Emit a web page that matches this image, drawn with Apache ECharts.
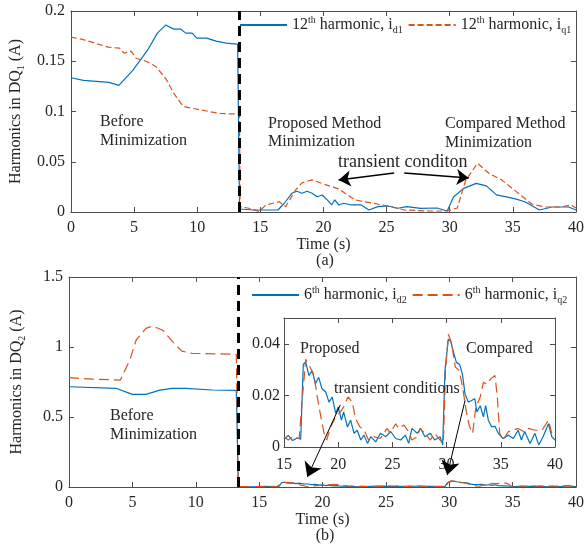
<!DOCTYPE html>
<html>
<head>
<meta charset="utf-8">
<script src="https://cdn.jsdelivr.net/npm/echarts@6/dist/echarts.min.js"></script>
<style>
  html, body { margin: 0; padding: 0; background: #fff; }
  #chart { width: 587px; height: 552px; }
</style>
</head>
<body>
<div id="chart"></div>
<script>
// (a) 12th harmonic in DQ1
const aTimeD1 = [0, 1, 2, 3, 3.8, 4.9, 6.07, 6.85, 7.5, 8.15, 8.67, 9.1, 9.6, 9.97, 10.75, 11.5, 12.3, 13.2, 13.35, 13.36, 14.5, 15.5, 16.4, 16.9, 17.5, 17.9, 18.3, 18.7, 19.1, 19.5, 19.9, 20.3, 20.65, 20.9, 21.2, 21.6, 22.2, 23.0, 23.6, 24.3, 25.1, 25.9, 26.6, 27.7, 29, 29.8, 30.3, 31.1, 32.1, 32.9, 33.7, 34.5, 35.2, 36, 37.1, 38.1, 39.4, 40];
const aValD1 = [0.1336, 0.131, 0.130, 0.129, 0.126, 0.141, 0.161, 0.178, 0.186, 0.182, 0.182, 0.178, 0.178, 0.173, 0.173, 0.170, 0.168, 0.167, 0.166, 0.003, 0.002, 0.002, 0.002, 0.0087, 0.0186, 0.0206, 0.0186, 0.0206, 0.0186, 0.0152, 0.0169, 0.012, 0.007, 0.012, 0.007, 0.0087, 0.007, 0.007, 0.002, 0.0053, 0.006, 0.0037, 0.0053, 0.0037, 0.004, 0.001, 0.015, 0.0235, 0.0285, 0.026, 0.017, 0.015, 0.013, 0.010, 0.002, 0.005, 0.005, 0.002];
const aTimeQ1 = [0, 0.85, 1.9, 2.95, 3.85, 4.2, 4.77, 5.16, 5.95, 6.7, 7.5, 8.15, 8.9, 9.7, 10.75, 11.8, 13.1, 13.35, 13.4, 14.1, 14.9, 15.45, 16, 16.5, 17, 17.4, 17.8, 18.3, 19.1, 20.2, 21.2, 22.5, 23.8, 25.1, 26.4, 28.4, 29.8, 30.6, 31.25, 32.2, 33.1, 34.1, 35.2, 36.5, 37.5, 38.8, 39.6, 40];
const aValQ1 = [0.174, 0.172, 0.168, 0.164, 0.163, 0.158, 0.160, 0.153, 0.150, 0.145, 0.133, 0.118, 0.105, 0.103, 0.1005, 0.098, 0.0975, 0.0975, 0.0053, 0.0037, 0.0005, 0.007, 0.0087, 0.0103, 0.0053, 0.0136, 0.022, 0.029, 0.032, 0.027, 0.023, 0.012, 0.009, 0.006, 0.002, 0.001, 0.001, 0.004, 0.031, 0.0485, 0.0385, 0.032, 0.021, 0.008, 0.005, 0.005, 0.007, 0.004];

// (b) 6th harmonic in DQ2, up to the switch to minimization
const bTimeD2 = [0, 3.7, 5, 6.07, 7.1, 8.1, 9.2, 11.3, 13.2, 13.35, 13.36, 14.2];
const bValD2 = [0.716, 0.705, 0.662, 0.662, 0.69, 0.705, 0.705, 0.693, 0.69, 0.688, 0.002, 0.001];
const bTimeQ2 = [0, 1.9, 4.05, 4.8, 5.3, 6.07, 6.6, 7.4, 8.15, 8.9, 9.7, 13.2, 13.35, 13.36, 14.2];
const bValQ2 = [0.781, 0.77, 0.764, 0.907, 1.05, 1.133, 1.15, 1.12, 1.04, 0.97, 0.955, 0.948, 0.948, 0.003, 0.002];

// (b) zoomed part, 15 s to 40 s
const zTimeD2 = [15, 15.4, 15.8, 16.2, 16.54, 16.78, 17.0, 17.3, 17.6, 17.9, 18.2, 18.5, 18.85, 19.15, 19.45, 19.77, 20.0, 20.3, 20.5, 20.85, 21.15, 21.46, 21.76, 22.08, 22.38, 22.7, 23.0, 23.46, 23.9, 24.4, 24.84, 25.3, 25.77, 26.2, 26.5, 26.8, 27.3, 27.6, 28.0, 28.5, 28.9, 29.4, 29.64, 29.85, 30.16, 30.38, 30.6, 30.9, 31.2, 31.46, 31.7, 32.0, 32.3, 32.6, 32.8, 33.1, 33.4, 33.6, 33.85, 34.16, 34.46, 34.77, 35.2, 35.7, 36.15, 36.6, 36.9, 37.2, 37.7, 38.15, 38.5, 38.9, 39.4, 39.7, 40];
const zValD2 = [0.003, 0.0045, 0.0025, 0.0035, 0.003, 0.032, 0.033, 0.0277, 0.0296, 0.0245, 0.027, 0.0226, 0.0213, 0.0174, 0.0194, 0.013, 0.0155, 0.0104, 0.0136, 0.0078, 0.0104, 0.0053, 0.0065, 0.0027, 0.0046, 0.0014, 0.004, 0.002, 0.0053, 0.004, 0.006, 0.0033, 0.0027, 0.0046, 0.0014, 0.0072, 0.0053, 0.0072, 0.004, 0.0053, 0.0027, 0.004, 0.0008, 0.0296, 0.0418, 0.041, 0.0373, 0.0328, 0.032, 0.0283, 0.0206, 0.0174, 0.018, 0.0187, 0.0136, 0.016, 0.0117, 0.016, 0.0104, 0.0078, 0.008, 0.0053, 0.0033, 0.0046, 0.0033, 0.0065, 0.0027, 0.006, 0.0014, 0.0053, 0.0008, 0.004, 0.009, 0.004, 0.0027];
const zTimeQ2 = [15, 15.4, 15.8, 16.4, 16.7, 17.0, 17.4, 17.77, 18.07, 18.4, 18.7, 18.94, 19.3, 19.77, 20.2, 20.5, 20.9, 21.3, 21.6, 22.0, 22.4, 22.8, 23.3, 23.9, 24.5, 24.8, 25.3, 25.6, 26.07, 26.4, 26.8, 27.3, 27.55, 28.0, 28.5, 28.9, 29.4, 29.7, 29.9, 30.16, 30.47, 30.8, 31.17, 31.5, 31.8, 32.1, 32.4, 32.7, 33.1, 33.4, 33.7, 34.07, 34.46, 34.68, 34.9, 35.2, 35.7, 36.15, 36.6, 37.1, 37.55, 38.15, 38.8, 39.4, 39.7, 40];
const zValQ2 = [0.004, 0.0027, 0.004, 0.0033, 0.0194, 0.034, 0.031, 0.0277, 0.0194, 0.0117, 0.0053, 0.0027, 0.0078, 0.0117, 0.0136, 0.0155, 0.0194, 0.0174, 0.011, 0.0078, 0.0065, 0.0027, 0.004, 0.0033, 0.0072, 0.0053, 0.009, 0.0072, 0.0085, 0.0065, 0.0027, 0.004, 0.0072, 0.0053, 0.0027, 0.0053, 0.0027, 0.0014, 0.0296, 0.0437, 0.040, 0.031, 0.0296, 0.0226, 0.0142, 0.008, 0.0053, 0.0155, 0.0194, 0.0251, 0.0243, 0.0264, 0.0277, 0.0194, 0.0053, 0.0027, 0.006, 0.0065, 0.0072, 0.006, 0.0072, 0.0065, 0.0065, 0.0104, 0.0053, 0.0065];

const switchTime = 13.35;
const legendLabels = {
  id1: '{n|12}{sup|th}{n| harmonic, i}{sub|d1}',
  iq1: '{n|12}{sup|th}{n| harmonic, i}{sub|q1}',
  id2: '{n|6}{sup|th}{n| harmonic, i}{sub|d2}',
  iq2: '{n|6}{sup|th}{n| harmonic, i}{sub|q2}'
};

const FONT = 'Liberation Serif';
const INK = '#262626';
const AXIS = '#4d4d4d';
const BLUE = '#0072BD';
const ORANGE = '#D95319';

const pairs = (t, v) => t.map((x, i) => [x, v[i]]);

const rich = {
  n: { fontFamily: FONT, fontSize: 16, color: INK, lineHeight: 20 },
  sup: { fontFamily: FONT, fontSize: 10, color: INK, verticalAlign: 'top', lineHeight: 10 },
  sub: { fontFamily: FONT, fontSize: 10, color: INK, verticalAlign: 'bottom', lineHeight: 10 }
};

function xPair(gridIndex, min, max, interval, name, nameGap) {
  const base = {
    gridIndex, type: 'value', min, max, interval,
    axisLine: { show: true, onZero: false, lineStyle: { color: AXIS, width: 1 } },
    axisTick: { inside: true, length: 5, lineStyle: { color: AXIS } },
    splitLine: { show: false }
  };
  return [
    Object.assign({}, base, {
      position: 'bottom',
      axisLabel: { fontFamily: FONT, fontSize: 16, color: INK, margin: 8 },
      name, nameLocation: 'middle', nameGap,
      nameTextStyle: { fontFamily: FONT, fontSize: 16, color: INK }
    }),
    Object.assign({}, base, { position: 'top', axisLabel: { show: false } })
  ];
}

function yPair(gridIndex, min, max, interval, name, labelMargin, showMax) {
  const base = {
    gridIndex, type: 'value', min, max, interval,
    axisLine: { show: true, onZero: false, lineStyle: { color: AXIS, width: 1 } },
    axisTick: { inside: true, length: 5, lineStyle: { color: AXIS } },
    splitLine: { show: false }
  };
  const left = Object.assign({}, base, {
    position: 'left',
    axisLabel: { fontFamily: FONT, fontSize: 16, color: INK, margin: labelMargin, showMaxLabel: showMax }
  });
  if (name) {
    Object.assign(left, {
      name, nameLocation: 'middle', nameGap: 42, nameRotate: 90,
      nameTextStyle: { rich }
    });
  }
  return [left, Object.assign({}, base, { position: 'right', axisLabel: { show: false } })];
}

const vLine = {
  xAxis: switchTime,
  symbol: 'none',
  lineStyle: { color: '#000', width: 3, type: [10, 6] }
};
function arrow(from, to, width, size) {
  return [
    { coord: from, symbol: 'none', lineStyle: { color: '#000', width, type: 'solid' } },
    { coord: to, symbol: 'arrow', symbolSize: size }
  ];
}

const lineSeries = (name, data, xi, color, dash, extra) => Object.assign({
  name, type: 'line', xAxisIndex: xi, yAxisIndex: xi, data,
  symbol: 'none', color,
  lineStyle: { color, width: 1.2, type: dash || 'solid' }
}, extra || {});

const chart = echarts.init(document.getElementById('chart'));

const xs = [].concat(
  xPair(0, 0, 40, 5, 'Time (s)', 21),
  xPair(1, 0, 40, 5, 'Time (s)', 20),
  xPair(2, 15, 40, 5, '', 0)
);
xs[4].axisLabel.margin = 10;

const ys = [].concat(
  yPair(0, 0, 0.2, 0.05, '{n|Harmonics in DQ}{sub|1}{n| (A)}', 6, true),
  yPair(1, 0, 1.5, 0.5, '{n|Harmonics in DQ}{sub|2}{n| (A)}', 6, true),
  yPair(2, 0, 0.05, 0.02, '', 4, false)
);

const textEl = (x, y, text, size, lh, align) => ({
  type: 'text', x, y, z: 100,
  style: {
    text, fill: INK, fontFamily: FONT, fontSize: size || 16,
    lineHeight: lh || 19, textAlign: align || 'left', textVerticalAlign: 'top'
  }
});

const legendBase = {
  padding: 0, itemWidth: 47, itemHeight: 14, itemGap: 5,
  itemStyle: { opacity: 0 },
  formatter: (n) => legendLabels[n], textStyle: { rich }
};

chart.setOption({
  animation: false,
  backgroundColor: '#fff',
  grid: [
    { left: 69, top: 11, width: 512, height: 201 },
    { left: 69, top: 277, width: 512, height: 210 },
    { left: 284, top: 318, width: 271, height: 129, show: true, backgroundColor: '#fff', borderWidth: 0 }
  ],
  xAxis: xs,
  yAxis: ys,
  legend: [
    Object.assign({ data: ['id1', 'iq1'], left: 239, top: 15 }, legendBase),
    Object.assign({ data: ['id2', 'iq2'], left: 251, top: 285 }, legendBase)
  ],
  graphic: [
    textEl(100, 112, 'Before\nMinimization'),
    textEl(268, 115, 'Proposed Method\nMinimization', 16, 18),
    textEl(445, 114, 'Compared Method\nMinimization'),
    textEl(338, 152, 'transient conditon', 18, 20),
    textEl(325, 252, '(a)', 16, 18, 'center'),
    textEl(110, 406, 'Before\nMinimization'),
    textEl(300, 339, 'Proposed'),
    textEl(466, 339, 'Compared'),
    textEl(334, 379, 'transient conditions'),
    textEl(325, 527, '(b)', 16, 18, 'center')
  ],
  series: [
    lineSeries('id1', pairs(aTimeD1, aValD1), 0, BLUE, null, {
      markLine: {
        silent: true, label: { show: false }, symbol: ['none', 'none'],
        data: [vLine, arrow([25.6, 0.0388], [21.2, 0.0318], 1.5, 12), arrow([26.4, 0.0388], [31.5, 0.0338], 1.5, 12)]
      }
    }),
    lineSeries('iq1', pairs(aTimeQ1, aValQ1), 0, ORANGE, [6, 3]),
    lineSeries('id2', pairs(bTimeD2.concat(zTimeD2), bValD2.concat(zValD2)), 2, BLUE, null, {
      markLine: {
        silent: true, label: { show: false }, symbol: ['none', 'none'],
        data: [vLine, arrow([21.4, 0.586], [18.8, 0.071], 1, 14), arrow([31.25, 0.62], [29.84, 0.086], 1, 14)]
      }
    }),
    lineSeries('iq2', pairs(bTimeQ2.concat(zTimeQ2), bValQ2.concat(zValQ2)), 2, ORANGE, [10, 5]),
    lineSeries('id2', pairs(zTimeD2, zValD2), 4, BLUE),
    lineSeries('iq2', pairs(zTimeQ2, zValQ2), 4, ORANGE, [10, 5])
  ]
});
</script>
</body>
</html>
